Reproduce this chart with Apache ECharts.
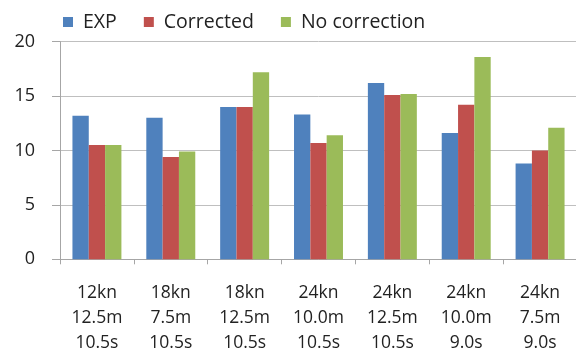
<!DOCTYPE html>
<html>
<head>
<meta charset="utf-8">
<script src="https://cdn.jsdelivr.net/npm/echarts@6/dist/echarts.min.js"></script>
<style>
  html, body { margin: 0; padding: 0; background: #fff; }
  #chart { width: 576px; height: 349px; }
</style>
</head>
<body>
<div id="chart"></div>
<script>
// Test conditions: wind speed, wave height, wave period
const speeds  = ['12kn', '18kn', '18kn', '24kn', '24kn', '24kn', '24kn'];
const heights = ['12.5m', '7.5m', '12.5m', '10.0m', '12.5m', '10.0m', '7.5m'];
const periods = ['10.5s', '10.5s', '10.5s', '10.5s', '10.5s', '9.0s', '9.0s'];

// Series values
const expValues          = [13.2, 13.0, 14.0, 13.3, 16.2, 11.6, 8.8];
const correctedValues    = [10.5, 9.4, 14.0, 10.7, 15.1, 14.2, 10.0];
const noCorrectionValues = [10.5, 9.9, 17.2, 11.4, 15.2, 18.6, 12.1];

// Y axis ticks
const yTicks = [0, 5, 10, 15, 20];

const categories = speeds.map((s, i) => s + '\n' + heights[i] + '\n' + periods[i]);

const FONT = '"Open Sans", "Noto Sans", sans-serif';
const TEXT = '#222222';

const chart = echarts.init(document.getElementById('chart'), null, { renderer: 'canvas' });

const barBase = {
  type: 'bar',
  barGap: '0%',
  barCategoryGap: '33.7%'
};

chart.setOption({
  animation: false,
  backgroundColor: '#ffffff',
  textStyle: { fontFamily: FONT },
  legend: {
    left: 58,
    top: 7,
    icon: 'rect',
    itemWidth: 10,
    itemHeight: 10,
    itemGap: 27,
    textStyle: { fontFamily: FONT, fontSize: 19.5, color: TEXT, padding: [0, 0, 0, 5] },
    data: ['EXP', 'Corrected', 'No correction']
  },
  grid: {
    left: 60, right: -1, top: 41.7, bottom: 89.7,
    containLabel: false,
    outerBoundsMode: 'none'
  },
  xAxis: {
    type: 'category',
    data: categories,
    axisLine: { show: true, lineStyle: { color: '#a6a6a6', width: 1 } },
    axisTick: { show: true, alignWithLabel: false, length: 5, lineStyle: { color: '#a6a6a6' } },
    axisLabel: {
      interval: 0,
      margin: 21,
      fontFamily: FONT,
      fontSize: 17.5,
      lineHeight: 25,
      color: TEXT
    }
  },
  yAxis: {
    type: 'value',
    min: yTicks[0],
    max: yTicks[yTicks.length - 1],
    interval: yTicks[1] - yTicks[0],
    axisLine: { show: true, lineStyle: { color: '#a6a6a6', width: 1 } },
    axisTick: { show: true, length: 8, lineStyle: { color: '#a6a6a6' } },
    axisLabel: { margin: 25, fontFamily: FONT, fontSize: 18, color: TEXT },
    splitLine: { show: true, lineStyle: { color: '#bfbfbf', width: 1 } }
  },
  series: [
    Object.assign({ name: 'EXP', data: expValues, itemStyle: { color: '#4f81bd' } }, barBase),
    Object.assign({ name: 'Corrected', data: correctedValues, itemStyle: { color: '#c0504d' } }, barBase),
    Object.assign({ name: 'No correction', data: noCorrectionValues, itemStyle: { color: '#9bbb59' } }, barBase)
  ]
});
</script>
</body>
</html>
